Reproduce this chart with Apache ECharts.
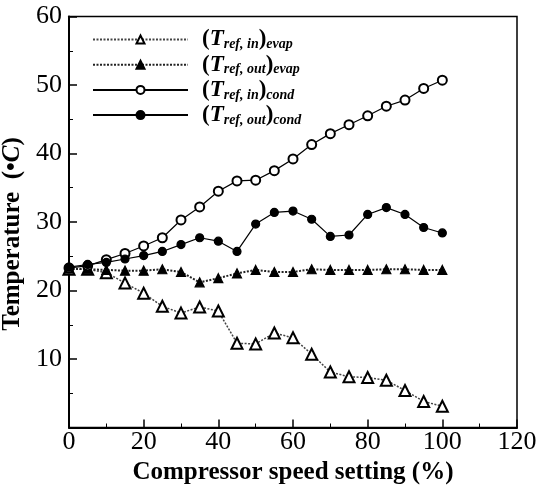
<!DOCTYPE html>
<html><head><meta charset="utf-8">
<script src="https://cdn.jsdelivr.net/npm/echarts@6/dist/echarts.min.js"></script>
<style>html,body{margin:0;padding:0;background:#fff}#c{width:540px;height:485px}</style>
</head><body><div id="c"></div>
<script>
const speed = [0,5,10,15,20,25,30,35,40,45,50,55,60,65,70,75,80,85,90,95,100];
const refInEvap = [23.1,23.1,22.6,21.1,19.6,17.7,16.7,17.6,17.0,12.3,12.2,13.8,13.1,10.7,8.1,7.4,7.3,6.9,5.4,3.8,3.1];
const refOutEvap = [23.2,23.1,23.0,22.9,22.9,23.1,22.7,21.2,21.8,22.5,23.0,22.7,22.7,23.1,23.0,23.0,23.0,23.1,23.1,23.0,23.0];
const refInCond = [23.3,23.6,24.5,25.4,26.5,27.7,30.3,32.2,34.5,36.0,36.1,37.5,39.2,41.3,42.9,44.2,45.5,46.9,47.8,49.5,50.7];
const refOutCond = [23.4,23.8,24.1,24.6,25.1,25.7,26.7,27.7,27.2,25.7,29.7,31.4,31.6,30.4,27.9,28.1,31.1,32.1,31.1,29.2,28.4];
const seriesNames = ['inEvap','outEvap','inCond','outCond'];
const legendSub = {inEvap:['ref, in','evap'], outEvap:['ref, out','evap'], inCond:['ref, in','cond'], outCond:['ref, out','cond']};

const pairs = a => speed.map((x,i)=>[x,a[i]]);
const F = '"Liberation Serif","Times New Roman",serif';
const chart = echarts.init(document.getElementById('c'));
function mk(name, data, symbol, size, lineType, lw, color){
  return {name, type:'line', data:pairs(data), symbol, symbolSize:size,
    lineStyle:{color, width:lw, type:lineType},
    itemStyle:{color:'#000', borderColor:'#000', borderWidth:1.2},
    emphasis:{disabled:true}, animation:false, z:3};
}
chart.setOption({
  animation:false,
  backgroundColor:'#fff',
  grid:{left:69, right:23, top:16.5, bottom:57.5, outerBoundsMode:'none', containLabel:false, show:true, borderColor:'#000', borderWidth:1.5, backgroundColor:'transparent'},
  xAxis:{type:'value', min:0, max:120, interval:20,
    name:'Compressor speed setting (%)', nameLocation:'middle', nameGap:25,
    nameTextStyle:{fontFamily:F, fontWeight:'bold', fontSize:25, color:'#000'},
    axisLine:{lineStyle:{color:'#000', width:2}},
    axisTick:{inside:true, length:8, lineStyle:{color:'#000', width:1.5}},
    minorTick:{show:true, splitNumber:2, length:4, lineStyle:{color:'#000', width:1}},
    axisLabel:{fontFamily:F, fontSize:26, color:'#000', margin:2},
    splitLine:{show:false}},
  yAxis:{type:'value', min:0, max:60, interval:10,
    name:'{b|Temperature  (•}{i|C}{e|)}', nameLocation:'middle', nameGap:25, nameRotate:90,
    nameTextStyle:{rich:{b:{fontFamily:F, fontWeight:'bold', fontSize:25, color:'#000'},
                         i:{fontFamily:F, fontWeight:'bold', fontStyle:'italic', fontSize:25, color:'#000'},
                         e:{fontFamily:F, fontWeight:'bold', fontSize:25, color:'#000', padding:[0,24,0,0]}}},
    axisLine:{lineStyle:{color:'#000', width:2}},
    axisTick:{inside:true, length:8, lineStyle:{color:'#000', width:1.5}},
    minorTick:{show:true, splitNumber:2, length:4, lineStyle:{color:'#000', width:1}},
    axisLabel:{fontFamily:F, fontSize:26, color:'#000', margin:7, formatter:v=> v===0?'':String(v)},
    splitLine:{show:false}},
  legend:{orient:'vertical', left:92, top:28, padding:0, itemWidth:95, itemHeight:10, itemGap:1.7,
    data:seriesNames,
    formatter:n=>'{sp|}{p|(}{t|T}{s|'+legendSub[n][0]+'}{p|)}{s|'+legendSub[n][1]+'}',
    textStyle:{rich:{
      sp:{width:9, lineHeight:24},
      p:{fontFamily:F, fontWeight:'bold', fontSize:23, color:'#000', lineHeight:24},
      t:{fontFamily:F, fontWeight:'bold', fontStyle:'italic', fontSize:23, color:'#000', lineHeight:24},
      s:{fontFamily:F, fontWeight:'bold', fontStyle:'italic', fontSize:14, color:'#000', lineHeight:10, verticalAlign:'bottom'}
    }}},
  series:[
    mk('inEvap', refInEvap, 'emptyTriangle', 11, [2,1.5], 1.5, '#444'),
    mk('outEvap', refOutEvap, 'triangle', 9, [2,1.5], 2, '#222'),
    mk('inCond', refInCond, 'emptyCircle', 9, 'solid', 1.2, '#000'),
    mk('outCond', refOutCond, 'circle', 8, 'solid', 1.2, '#000')
  ]
});
</script></body></html>
